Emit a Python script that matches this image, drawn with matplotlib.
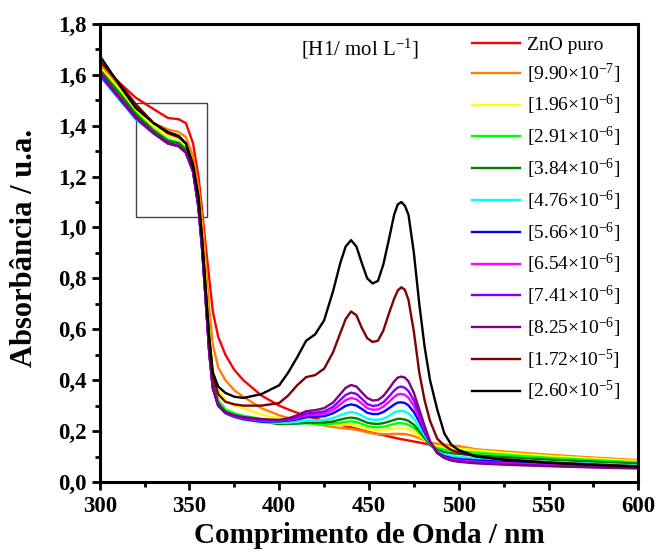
import numpy as np
import matplotlib
matplotlib.use("Agg")
import matplotlib.pyplot as plt
from matplotlib.patches import Rectangle

plt.rcParams["font.family"] = ["Liberation Serif", "DejaVu Serif"]
plt.rcParams["mathtext.default"] = "regular"

# wavelength grid (nm), same for every spectrum
wl = [300, 310, 320, 330, 338, 344, 348, 352, 355, 357,
      359, 361, 363, 366, 370, 375, 380, 390, 400, 405,
      410, 415, 420, 425, 430, 434, 437, 440, 443, 446,
      449, 452, 455, 458, 461, 464, 466, 468, 470, 472,
      475, 478, 481, 484, 488, 492, 496, 500, 510, 525,
      550, 575, 600]

zno = [1.64, 1.575, 1.51, 1.465, 1.43, 1.425, 1.41, 1.33, 1.20, 1.07,
       0.93, 0.80, 0.67, 0.57, 0.50, 0.44, 0.40, 0.34, 0.30, 0.285,
       0.272, 0.26, 0.25, 0.24, 0.232, 0.225, 0.22, 0.215, 0.209, 0.203,
       0.198, 0.193, 0.188, 0.184, 0.179, 0.174, 0.171, 0.168, 0.166, 0.163,
       0.159, 0.155, 0.151, 0.147, 0.143, 0.139, 0.136, 0.133, 0.126, 0.117,
       0.103, 0.092, 0.082]
c_990e7 = [1.645, 1.56, 1.475, 1.41, 1.385, 1.375, 1.355, 1.28, 1.16, 1.04,
           0.87, 0.68, 0.54, 0.45, 0.40, 0.36, 0.335, 0.29, 0.262, 0.252,
           0.244, 0.237, 0.228, 0.222, 0.216, 0.212, 0.21, 0.208, 0.205, 0.20,
           0.195, 0.191, 0.189, 0.188, 0.188, 0.189, 0.189, 0.189, 0.188, 0.186,
           0.18, 0.172, 0.164, 0.156, 0.15, 0.147, 0.144, 0.141, 0.128, 0.12,
           0.107, 0.096, 0.086]
c_196e6 = [1.63, 1.55, 1.46, 1.395, 1.36, 1.35, 1.325, 1.25, 1.12, 0.98,
           0.79, 0.58, 0.44, 0.36, 0.32, 0.30, 0.29, 0.265, 0.25, 0.244,
           0.24, 0.236, 0.233, 0.229, 0.226, 0.225, 0.225, 0.224, 0.221, 0.215,
           0.208, 0.204, 0.203, 0.204, 0.207, 0.21, 0.211, 0.211, 0.21, 0.206,
           0.196, 0.182, 0.166, 0.149, 0.141, 0.138, 0.135, 0.132, 0.124, 0.115,
           0.102, 0.092, 0.082]
c_291e6 = [1.62, 1.54, 1.45, 1.385, 1.345, 1.335, 1.31, 1.235, 1.10, 0.95,
           0.75, 0.54, 0.40, 0.32, 0.285, 0.27, 0.26, 0.248, 0.236, 0.232,
           0.23, 0.23, 0.229, 0.227, 0.229, 0.233, 0.236, 0.238, 0.235, 0.228,
           0.22, 0.216, 0.215, 0.217, 0.222, 0.228, 0.231, 0.231, 0.229, 0.225,
           0.212, 0.193, 0.17, 0.146, 0.133, 0.127, 0.124, 0.121, 0.115, 0.107,
           0.095, 0.086, 0.077]
c_384e6 = [1.62, 1.535, 1.445, 1.38, 1.34, 1.33, 1.305, 1.23, 1.09, 0.94,
           0.74, 0.53, 0.39, 0.31, 0.275, 0.26, 0.25, 0.238, 0.227, 0.228,
           0.23, 0.233, 0.233, 0.233, 0.238, 0.245, 0.25, 0.253, 0.25, 0.242,
           0.233, 0.229, 0.228, 0.231, 0.237, 0.244, 0.248, 0.248, 0.245, 0.24,
           0.225, 0.201, 0.174, 0.145, 0.126, 0.117, 0.113, 0.11, 0.105, 0.098,
           0.088, 0.08, 0.072]
c_476e6 = [1.595, 1.51, 1.425, 1.37, 1.33, 1.32, 1.295, 1.22, 1.08, 0.92,
           0.72, 0.51, 0.37, 0.30, 0.27, 0.255, 0.245, 0.235, 0.232, 0.233,
           0.236, 0.241, 0.242, 0.243, 0.251, 0.262, 0.27, 0.275, 0.271, 0.261,
           0.249, 0.245, 0.244, 0.249, 0.259, 0.273, 0.278, 0.28, 0.277, 0.269,
           0.248, 0.216, 0.183, 0.151, 0.12, 0.107, 0.102, 0.099, 0.093, 0.087,
           0.078, 0.071, 0.065]
c_566e6 = [1.60, 1.515, 1.43, 1.37, 1.33, 1.32, 1.295, 1.22, 1.08, 0.92,
           0.72, 0.51, 0.37, 0.30, 0.27, 0.256, 0.247, 0.237, 0.238, 0.241,
           0.246, 0.254, 0.256, 0.258, 0.27, 0.286, 0.299, 0.305, 0.30, 0.287,
           0.272, 0.267, 0.267, 0.275, 0.289, 0.304, 0.312, 0.313, 0.31, 0.301,
           0.275, 0.237, 0.195, 0.155, 0.117, 0.101, 0.094, 0.09, 0.085, 0.079,
           0.071, 0.065, 0.06]
c_654e6 = [1.605, 1.52, 1.432, 1.372, 1.33, 1.32, 1.295, 1.22, 1.08, 0.92,
           0.72, 0.51, 0.37, 0.30, 0.272, 0.258, 0.25, 0.24, 0.24, 0.244,
           0.251, 0.262, 0.264, 0.268, 0.283, 0.305, 0.322, 0.33, 0.325, 0.308,
           0.29, 0.284, 0.285, 0.296, 0.314, 0.334, 0.344, 0.346, 0.342, 0.331,
           0.299, 0.252, 0.203, 0.157, 0.115, 0.097, 0.089, 0.085, 0.079, 0.074,
           0.067, 0.061, 0.057]
c_741e6 = [1.60, 1.515, 1.43, 1.37, 1.33, 1.318, 1.293, 1.22, 1.08, 0.92,
           0.72, 0.51, 0.37, 0.30, 0.273, 0.26, 0.252, 0.243, 0.242, 0.246,
           0.256, 0.269, 0.272, 0.277, 0.295, 0.322, 0.342, 0.351, 0.346, 0.327,
           0.306, 0.299, 0.301, 0.313, 0.335, 0.359, 0.371, 0.375, 0.37, 0.357,
           0.321, 0.266, 0.209, 0.158, 0.113, 0.095, 0.086, 0.082, 0.076, 0.071,
           0.064, 0.059, 0.055]
c_825e6 = [1.61, 1.52, 1.435, 1.372, 1.332, 1.32, 1.295, 1.22, 1.08, 0.92,
           0.72, 0.51, 0.37, 0.30, 0.275, 0.262, 0.255, 0.247, 0.244, 0.25,
           0.262, 0.278, 0.282, 0.29, 0.312, 0.345, 0.37, 0.381, 0.375, 0.352,
           0.33, 0.32, 0.322, 0.338, 0.365, 0.395, 0.41, 0.414, 0.41, 0.395,
           0.35, 0.285, 0.22, 0.16, 0.115, 0.094, 0.084, 0.079, 0.073, 0.068,
           0.062, 0.057, 0.053]
c_172e5 = [1.655, 1.575, 1.485, 1.41, 1.37, 1.355, 1.33, 1.25, 1.12, 0.96,
           0.76, 0.56, 0.42, 0.345, 0.315, 0.305, 0.30, 0.30, 0.31, 0.34,
           0.38, 0.412, 0.42, 0.445, 0.51, 0.585, 0.64, 0.67, 0.655, 0.605,
           0.565, 0.55, 0.555, 0.595, 0.66, 0.72, 0.752, 0.765, 0.755, 0.715,
           0.59, 0.43, 0.32, 0.24, 0.17, 0.143, 0.125, 0.115, 0.1, 0.089,
           0.077, 0.069, 0.062]
c_260e5 = [1.675, 1.57, 1.47, 1.41, 1.375, 1.36, 1.33, 1.24, 1.12, 0.96,
           0.76, 0.57, 0.43, 0.375, 0.35, 0.335, 0.33, 0.345, 0.38, 0.43,
           0.49, 0.555, 0.58, 0.635, 0.75, 0.86, 0.925, 0.95, 0.925, 0.86,
           0.80, 0.78, 0.79, 0.855, 0.95, 1.05, 1.09, 1.10, 1.085, 1.05,
           0.90, 0.70, 0.53, 0.40, 0.285, 0.19, 0.145, 0.125, 0.10, 0.088,
           0.075, 0.067, 0.06]

labels = ["ZnO puro", "[9.90×10$^{-7}$]", "[1.96×10$^{-6}$]", "[2.91×10$^{-6}$]",
          "[3.84×10$^{-6}$]", "[4.76×10$^{-6}$]", "[5.66×10$^{-6}$]", "[6.54×10$^{-6}$]",
          "[7.41×10$^{-6}$]", "[8.25×10$^{-6}$]", "[1.72×10$^{-5}$]", "[2.60×10$^{-5}$]"]
colors = ["#ff0000", "#ff8000", "#ffff00", "#00ff00", "#008000", "#00ffff",
          "#0000ff", "#ff00ff", "#8000ff", "#800080", "#800000", "#000000"]
series = [zno, c_990e7, c_196e6, c_291e6, c_384e6, c_476e6,
          c_566e6, c_654e6, c_741e6, c_825e6, c_172e5, c_260e5]

yticks = [0.0, 0.2, 0.4, 0.6, 0.8, 1.0, 1.2, 1.4, 1.6, 1.8]
ytick_labels = ["0,0", "0,2", "0,4", "0,6", "0,8", "1,0", "1,2", "1,4", "1,6", "1,8"]
xticks = [300, 350, 400, 450, 500, 550, 600]

fig = plt.figure(figsize=(6.56, 5.54), dpi=100)
ax = fig.add_axes([0.152, 0.130, 0.821, 0.827])

for y, c, lab in zip(series, colors, labels):
    ax.plot(wl, y, color=c, lw=1.7, label=lab)

# zoom box around the ZnO shoulder
ax.add_patch(Rectangle((320, 1.04), 40, 0.45, fill=False, edgecolor="#444444", lw=1.0))

ax.set_xlim(300, 600)
ax.set_ylim(0, 1.8)
ax.set_xticks(xticks)
ax.set_xticks(np.arange(325, 600, 50), minor=True)
ax.set_yticks(yticks)
ax.set_yticklabels(ytick_labels)
ax.set_yticks(np.arange(0.1, 1.8, 0.2), minor=True)
ax.tick_params(which="both", direction="out", width=2, labelsize=16.5)
ax.tick_params(which="major", length=6)
ax.tick_params(which="minor", length=3.5)
ax.tick_params(axis="x", pad=4)
for lab in ax.get_xticklabels() + ax.get_yticklabels():
    lab.set_fontweight("bold")
for sp in ax.spines.values():
    sp.set_linewidth(2.2)

ax.set_xlabel("Comprimento de Onda / nm", fontsize=21, fontweight="bold")
ax.set_ylabel("Absorbância / u.a.", fontsize=22, fontweight="bold")
ax.xaxis.set_label_coords(0.5, -0.088)
ax.yaxis.set_label_coords(-0.112, 0.51)

ax.text(445, 1.70, "[H1/ mol L$^{-1}$]", fontsize=15, ha="center", va="center")

ax.legend(loc="upper left", bbox_to_anchor=(0.691, 0.973), frameon=False, fontsize=14,
          handlelength=2.5, labelspacing=0.39, handletextpad=0.36, borderaxespad=0,
          borderpad=0)

fig.savefig("out.png", dpi=100)
